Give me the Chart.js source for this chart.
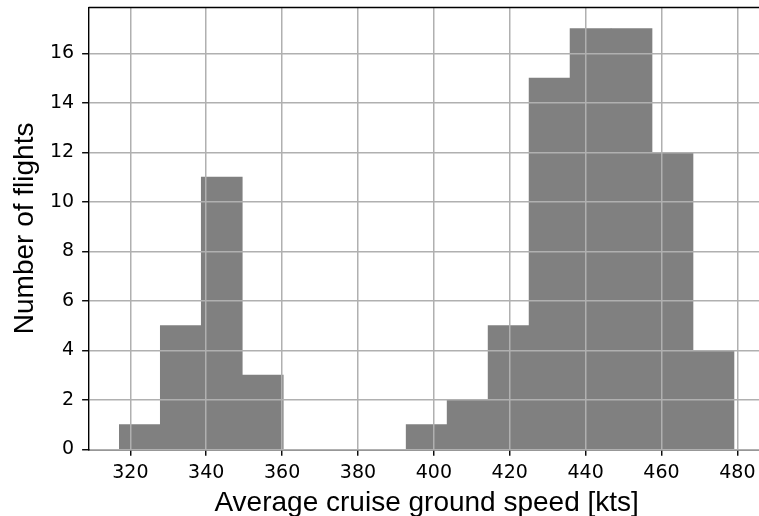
<!DOCTYPE html>
<html>
<head>
<meta charset="utf-8">
<script src="https://cdn.jsdelivr.net/npm/chart.js@4/dist/chart.umd.min.js"></script>
<style>
  html, body { margin: 0; padding: 0; background: #fff; overflow: hidden; }
  #wrap { width: 759px; height: 516px; overflow: hidden; position: relative; }
  canvas { display: block; }
</style>
</head>
<body>
<div id="wrap"><canvas id="c" width="770" height="520"></canvas></div>
<script>
// Histogram bin edges (kts) and the number of flights in each bin
const binEdges = [317.1, 327.9, 338.7, 349.5, 360.3, 371.1, 381.9, 392.7,
                  403.5, 414.3, 425.1, 435.9, 446.7, 457.5, 468.3, 479.1];
const flightCounts = [1, 5, 11, 3, 0, 0, 0, 1, 2, 5, 15, 17, 17, 12, 4];

// Axis ticks and limits
const xTicks = [320, 340, 360, 380, 400, 420, 440, 460, 480];
const yTicks = [0, 2, 4, 6, 8, 10, 12, 14, 16];
const xRange = [309.0, 487.2];
const yRange = [0, 17.85];

const barPoints = flightCounts.map((n, i) => ({
  x: (binEdges[i] + binEdges[i + 1]) / 2,
  y: n
}));

// Top spine of the axes frame
const topSpine = {
  id: 'topSpine',
  afterDraw(chart) {
    const { ctx, chartArea } = chart;
    ctx.save();
    ctx.strokeStyle = '#000';
    ctx.lineWidth = 1.4;
    ctx.beginPath();
    ctx.moveTo(chartArea.left, chartArea.top);
    ctx.lineTo(chartArea.right, chartArea.top);
    ctx.stroke();
    ctx.restore();
  }
};

const tickFont = { family: 'DejaVu Sans', size: 19 };
const titleFont = { family: 'Liberation Sans', size: 28, lineHeight: 1 };

new Chart(document.getElementById('c'), {
  type: 'bar',
  data: {
    datasets: [{
      data: barPoints,
      backgroundColor: 'rgb(128,128,128)',
      borderWidth: 0,
      barPercentage: 1.0,
      categoryPercentage: 1.0
    }]
  },
  options: {
    responsive: false,
    devicePixelRatio: 1,
    animation: false,
    events: [],
    layout: { padding: { top: 7.5, right: 5.3, left: 0, bottom: 0 } },
    plugins: { legend: { display: false }, tooltip: { enabled: false } },
    scales: {
      x: {
        type: 'linear',
        offset: false,
        min: xRange[0],
        max: xRange[1],
        afterBuildTicks: (s) => { s.ticks = xTicks.map(v => ({ value: v })); },
        afterFit: (s) => { s.height = 70.7; s.paddingLeft = 0; s.paddingRight = 0; },
        grid: { color: '#b0b0b0', lineWidth: 1.5, z: 1, offset: false,
                drawTicks: true, tickLength: 6.5, tickColor: '#000', tickWidth: 1.4 },
        border: { color: '#000', width: 1.4, z: 1 },
        ticks: { font: tickFont, color: '#000', padding: 6, maxRotation: 0, autoSkip: false },
        title: { display: true, text: 'Average cruise ground speed [kts]',
                 font: titleFont, color: '#000', padding: { top: 0, bottom: 2.4 } }
      },
      y: {
        min: yRange[0],
        max: yRange[1],
        afterBuildTicks: (s) => { s.ticks = yTicks.map(v => ({ value: v })); },
        afterFit: (s) => { s.width = 88.6; s.paddingTop = 0; s.paddingBottom = 0; },
        grid: { color: '#b0b0b0', lineWidth: 1.5, z: 1,
                drawTicks: true, tickLength: 6.5, tickColor: '#000', tickWidth: 1.4 },
        border: { color: '#000', width: 1.4, z: 1 },
        ticks: { font: tickFont, color: '#000', padding: 8, autoSkip: false },
        title: { display: true, text: 'Number of flights',
                 font: titleFont, color: '#000', padding: { top: 11.3, bottom: 0 } }
      }
    }
  },
  plugins: [topSpine]
});
</script>
</body>
</html>
